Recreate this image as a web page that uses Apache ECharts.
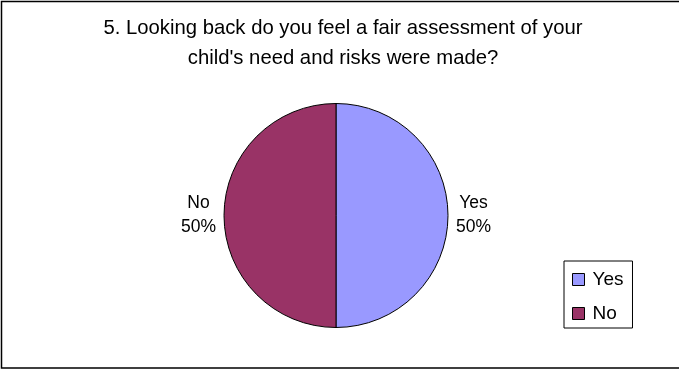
<!DOCTYPE html>
<html>
<head>
<meta charset="utf-8">
<script src="https://cdn.jsdelivr.net/npm/echarts@6/dist/echarts.min.js"></script>
<style>
html,body{margin:0;padding:0;background:#fff;}
#chart{width:679px;height:370px;}
</style>
</head>
<body>
<div id="chart"></div>
<script>
const titleText = "5. Looking back do you feel a fair assessment of your\nchild's need and risks were made?";
const categories = ["Yes", "No"];
const values = [50, 50];
const colors = ["#9999FF", "#993366"];

const chart = echarts.init(document.getElementById('chart'), null, {renderer: 'canvas'});
const FONT = '"Liberation Sans", Arial, sans-serif';

chart.setOption({
  animation: false,
  backgroundColor: '#ffffff',
  graphic: [{
    type: 'rect',
    shape: {x: 1.5, y: 1.5, width: 700, height: 366.5},
    style: {fill: 'none', stroke: '#000', lineWidth: 1.5},
    silent: true, z: 100
  }],
  title: {
    text: titleText,
    left: 338, top: 8, textAlign: 'center',
    textStyle: {fontFamily: FONT, fontSize: 20.3, fontWeight: 'normal', color: '#000', lineHeight: 30}
  },
  legend: {
    orient: 'vertical',
    left: 564, top: 261,
    padding: [9, 9, 5, 8],
    itemWidth: 12, itemHeight: 12, itemGap: 15,
    icon: 'rect',
    borderColor: '#000', borderWidth: 1,
    textStyle: {fontFamily: FONT, fontSize: 19, color: '#000', padding: [0,0,0,3]},
    itemStyle: {borderColor: '#000', borderWidth: 1},
    data: categories
  },
  series: [{
    type: 'pie',
    center: [336, 215.5],
    radius: 112,
    startAngle: 90,
    clockwise: true,
    data: categories.map((c, i) => ({name: c, value: values[i], itemStyle: {color: colors[i]}})),
    itemStyle: {borderColor: '#000', borderWidth: 1},
    label: {
      show: true,
      position: 'outside',
      formatter: '{t|{b}\n{d}%}',
      distanceToLabelLine: 5,
      rich: {t: {fontFamily: FONT, fontSize: 17.5, color: '#000', width: 35, align: 'center', lineHeight: 24}}
    },
    labelLine: {show: false, length: 3, length2: 0},
    emphasis: {disabled: true}
  }]
});
</script>
</body>
</html>
